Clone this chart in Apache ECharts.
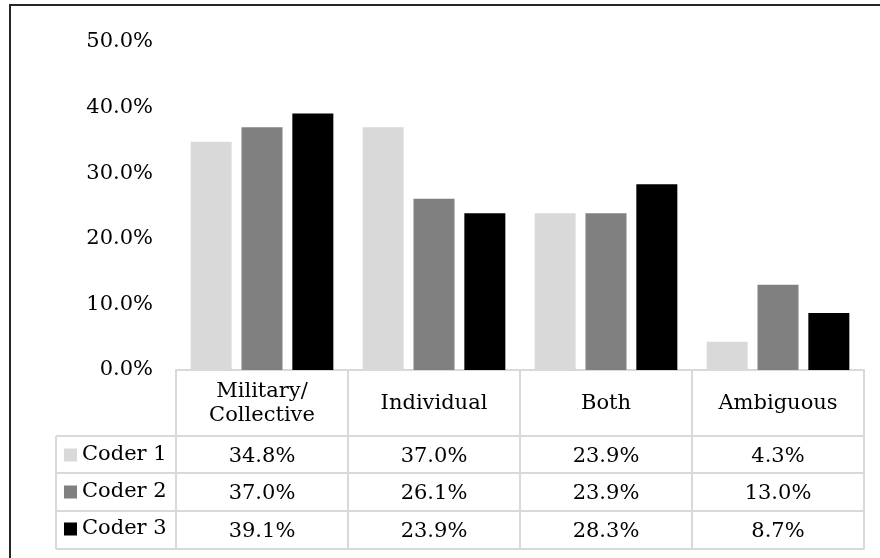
<!DOCTYPE html>
<html>
<head>
<meta charset="utf-8">
<script src="https://cdn.jsdelivr.net/npm/echarts@6/dist/echarts.min.js"></script>
<style>
  html, body { margin: 0; padding: 0; background: #ffffff; }
  #chart { width: 880px; height: 558px; }
</style>
</head>
<body>
<div id="chart"></div>
<script>
// Share of codes per category, by coder (percent)
const categories = ['Military/\nCollective', 'Individual', 'Both', 'Ambiguous'];
const seriesNames = ['Coder 1', 'Coder 2', 'Coder 3'];
const coder1 = [34.8, 37.0, 23.9, 4.3];
const coder2 = [37.0, 26.1, 23.9, 13.0];
const coder3 = [39.1, 23.9, 28.3, 8.7];
const yTicks = [0, 10, 20, 30, 40, 50];

const seriesValues = [coder1, coder2, coder3];
const colors = ['#d9d9d9', '#808080', '#000000'];

// Layout
const W = 880, H = 558;
const FONT = 'DejaVu Serif';
const FS = 21;
const gridLeft = 176, gridRight = 16, gridTop = 42, gridBottom = 188;
const baseY = H - gridBottom;                 // y of the 0% line
const rowOffsets = [66, 103, 141, 179];       // table row dividers below the baseline
const tableLine = { color: '#d9d9d9', width: 2 };
const legendColLeft = 56;

const pct = v => v.toFixed(1) + '%';

const labelStyle = {
  fontFamily: FONT, fontSize: FS, color: '#000', lineHeight: 24
};

// x axes: category header plus one data-table row per coder
const xAxes = [{
  type: 'category',
  data: categories,
  gridIndex: 0,
  position: 'bottom',
  axisLine: { show: true, lineStyle: tableLine },
  axisTick: { show: true, interval: 0, length: rowOffsets[3], lineStyle: tableLine },
  axisLabel: Object.assign({ interval: 0, margin: rowOffsets[0] / 2 + 1, verticalAlign: 'middle' }, labelStyle),
  splitLine: { show: false }
}];
seriesValues.forEach((vals, i) => {
  xAxes.push({
    type: 'category',
    data: vals.map(pct),
    gridIndex: 0,
    position: 'bottom',
    offset: rowOffsets[i],
    axisLine: { show: true, lineStyle: tableLine },
    axisTick: { show: false },
    axisLabel: Object.assign({ interval: 0, margin: (rowOffsets[i + 1] - rowOffsets[i]) / 2 + 2, verticalAlign: 'middle' }, labelStyle),
    splitLine: { show: false }
  });
});
xAxes.push({
  type: 'category',
  data: categories,
  gridIndex: 0,
  position: 'bottom',
  offset: rowOffsets[3],
  axisLine: { show: true, lineStyle: tableLine },
  axisTick: { show: false },
  axisLabel: { show: false },
  splitLine: { show: false }
});

// Legend column of the data table and the outer frame
const rowYs = rowOffsets.map(o => baseY + o);
const graphics = [];
rowYs.forEach(y => {
  graphics.push({
    type: 'line', silent: true,
    shape: { x1: legendColLeft, y1: y, x2: gridLeft, y2: y },
    style: { stroke: tableLine.color, lineWidth: tableLine.width }
  });
});
graphics.push({
  type: 'line', silent: true,
  shape: { x1: legendColLeft, y1: rowYs[0], x2: legendColLeft, y2: rowYs[3] },
  style: { stroke: tableLine.color, lineWidth: tableLine.width }
});
graphics.push({
  type: 'polyline', silent: true,
  shape: { points: [[10, H], [10, 5], [W, 5]] },
  style: { stroke: '#262626', lineWidth: 2, fill: null }
});

const chart = echarts.init(document.getElementById('chart'), null, { renderer: 'canvas' });
chart.setOption({
  backgroundColor: '#ffffff',
  animation: false,
  textStyle: { fontFamily: FONT },
  grid: { left: gridLeft, right: gridRight, top: gridTop, bottom: gridBottom, containLabel: false },
  legend: {
    orient: 'vertical',
    left: 59,
    top: rowYs[0] + 2,
    icon: 'rect',
    itemWidth: 13,
    itemHeight: 13,
    itemGap: 13,
    selectedMode: false,
    data: seriesNames,
    textStyle: { fontFamily: FONT, fontSize: FS, color: '#000', lineHeight: 24 }
  },
  xAxis: xAxes,
  yAxis: {
    type: 'value',
    min: yTicks[0],
    max: yTicks[yTicks.length - 1],
    interval: yTicks[1] - yTicks[0],
    axisLine: { show: false },
    axisTick: { show: false },
    splitLine: { show: false },
    axisLabel: {
      margin: 23,
      fontFamily: FONT, fontSize: FS, color: '#000',
      formatter: v => pct(v)
    }
  },
  series: seriesNames.map((name, i) => ({
    name: name,
    type: 'bar',
    xAxisIndex: 0,
    data: seriesValues[i],
    barWidth: 41,
    barGap: '24%',
    itemStyle: { color: colors[i] },
    silent: true
  })),
  graphic: graphics
});
</script>
</body>
</html>
